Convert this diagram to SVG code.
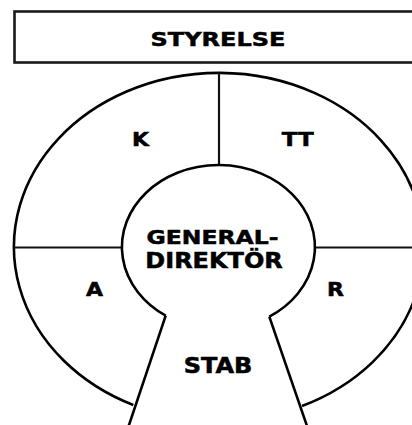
<svg xmlns="http://www.w3.org/2000/svg" width="412" height="425" viewBox="0 0 412 425">
<style>
.bg{fill:#ffffff}
.shape{fill:none;stroke:#000;stroke-width:2.6;stroke-linejoin:miter}
.line{fill:none;stroke:#111;stroke-width:2.2}
.box{fill:#fff;stroke:#1a1a1a;stroke-width:2.6}
.lbl{font-family:"DejaVu Sans",Verdana,sans-serif;font-weight:bold;fill:#000;stroke:#000;stroke-width:0.6}
</style>
<rect class="bg" x="0" y="0" width="412" height="425"/>
<g id="styrelse">
<rect class="box" x="14.5" y="11.5" width="420" height="51"/>
<text class="lbl" font-size="24" text-anchor="middle" transform="translate(218,46) scale(1,0.78)">STYRELSE</text>
</g>
<g id="ring">
<path class="shape" d="M133.3 405 A205 174 0 1 1 302 406"/>
</g>
<g id="connectors">
<line class="line" x1="219" y1="73" x2="219" y2="165"/>
<line class="line" x1="14" y1="247.5" x2="122" y2="247.5"/>
<line class="line" x1="315" y1="247.5" x2="412" y2="247.5"/>
<path class="shape" d="M128 428 L165.7 315.7"/>
<path class="shape" d="M269.3 316.7 L307.7 428"/>
</g>
<g id="k">
<text class="lbl" font-size="22" text-anchor="middle" transform="translate(140.5,146) scale(1,0.85)">K</text>
</g>
<g id="tt">
<text class="lbl" font-size="23" text-anchor="middle" transform="translate(297.7,146) scale(1,0.85)">TT</text>
</g>
<g id="a">
<text class="lbl" font-size="22" text-anchor="middle" transform="translate(94.5,296) scale(1,0.85)">A</text>
</g>
<g id="r">
<text class="lbl" font-size="22" text-anchor="middle" transform="translate(335.5,296) scale(1,0.85)">R</text>
</g>
<g id="generaldirektor">
<path class="shape" d="M165.7 315.7 A96.5 82 0 1 1 269.3 316.7"/>
<text class="lbl" font-size="23.5" transform="translate(146.5,244) scale(1,0.85)">GENERAL-</text>
<text class="lbl" font-size="24" transform="translate(145.3,268.3) scale(1,0.85)">DIREKTÖR</text>
</g>
<g id="stab">
<text class="lbl" font-size="24" text-anchor="middle" transform="translate(218,373) scale(1,0.85)">STAB</text>
</g>
</svg>
